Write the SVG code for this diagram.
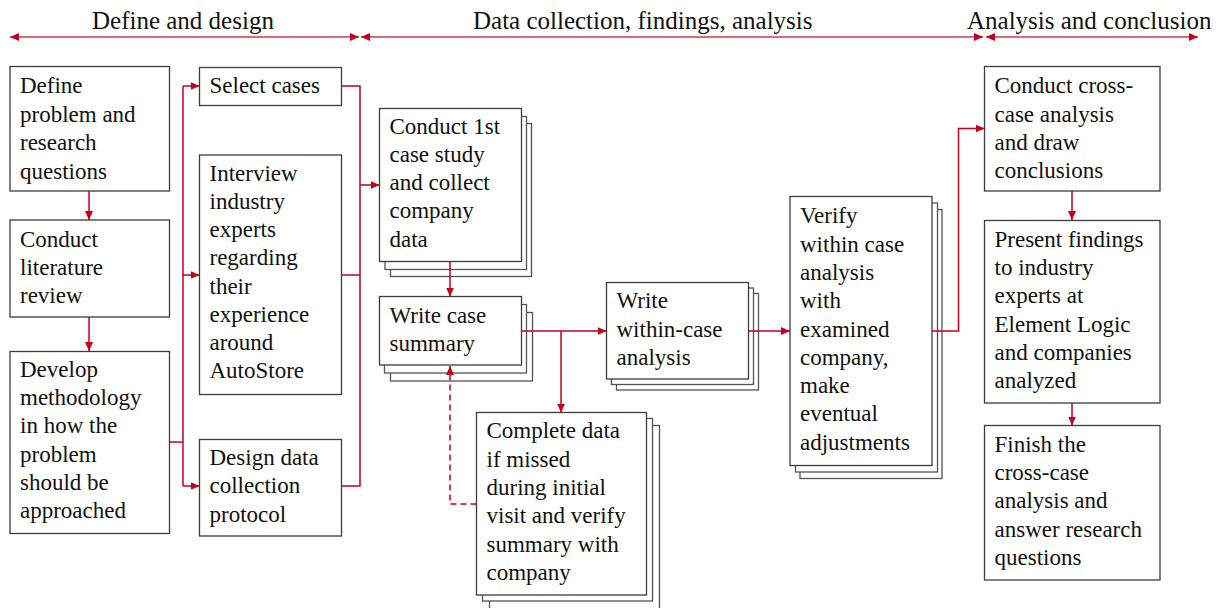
<svg xmlns="http://www.w3.org/2000/svg" width="1222" height="608" viewBox="0 0 1222 608" font-family="'Liberation Serif', 'Times New Roman', Tinos, serif">
<defs>
<style>
text{font-family:"Liberation Serif","Times New Roman",Tinos,serif;fill:#111;}
.h{font-size:25px;}
.t{font-size:23px;}
.box{fill:#fff;stroke:#3c3c3c;stroke-width:1.3;}
.bk{fill:#fff;stroke:#555;stroke-width:1.3;}
.c{fill:none;stroke:#c4001c;stroke-width:1.5;}
.d{fill:none;stroke:#c4001c;stroke-width:1.5;stroke-dasharray:6,4;}
.hl{fill:none;stroke:#cf3a4a;stroke-width:1.4;}
</style>
<marker id="a" markerWidth="9" markerHeight="8" refX="9" refY="4" orient="auto-start-reverse" markerUnits="userSpaceOnUse">
<path d="M0,0 L9,4 L0,8 z" fill="#c4001c"/>
</marker>
</defs>
<rect width="1222" height="608" fill="#fff"/>
<g id="headers">
<text class="h" x="92" y="29">Define and design</text>
<text class="h" x="473" y="29">Data collection, findings, analysis</text>
<text class="h" x="967" y="29">Analysis and conclusion</text>
<line class="hl" x1="10" y1="37" x2="359" y2="37" marker-start="url(#a)" marker-end="url(#a)"/>
<line class="hl" x1="361" y1="37" x2="983" y2="37" marker-start="url(#a)" marker-end="url(#a)"/>
<line class="hl" x1="986" y1="37" x2="1198" y2="37" marker-start="url(#a)" marker-end="url(#a)"/>
</g>
<g id="n-define">
<rect class="box" x="10" y="66.5" width="159.5" height="124.5"/>
<text class="t" x="20" y="93.3">Define</text>
<text class="t" x="20" y="121.7">problem and</text>
<text class="t" x="20" y="150.1">research</text>
<text class="t" x="20" y="178.5">questions</text>
</g>
<g id="n-literature">
<rect class="box" x="10" y="220" width="159.5" height="97"/>
<text class="t" x="20" y="246.5">Conduct</text>
<text class="t" x="20" y="274.9">literature</text>
<text class="t" x="20" y="303.3">review</text>
</g>
<g id="n-develop">
<rect class="box" x="10" y="351.5" width="159.5" height="182"/>
<text class="t" x="20" y="376.8">Develop</text>
<text class="t" x="20" y="405.1">methodology</text>
<text class="t" x="20" y="433.4">in how the</text>
<text class="t" x="20" y="461.7">problem</text>
<text class="t" x="20" y="490">should be</text>
<text class="t" x="20" y="518.3">approached</text>
</g>
<g id="n-select">
<rect class="box" x="199.5" y="67.5" width="142" height="38"/>
<text class="t" x="209.5" y="93.3">Select cases</text>
</g>
<g id="n-interview">
<rect class="box" x="199.5" y="155" width="142" height="239.5"/>
<text class="t" x="209.5" y="180.7">Interview</text>
<text class="t" x="209.5" y="208.9">industry</text>
<text class="t" x="209.5" y="237.1">experts</text>
<text class="t" x="209.5" y="265.3">regarding</text>
<text class="t" x="209.5" y="293.5">their</text>
<text class="t" x="209.5" y="321.7">experience</text>
<text class="t" x="209.5" y="349.9">around</text>
<text class="t" x="209.5" y="378.1">AutoStore</text>
</g>
<g id="n-design">
<rect class="box" x="199.5" y="439.5" width="142" height="96.5"/>
<text class="t" x="209.5" y="465">Design data</text>
<text class="t" x="209.5" y="493.3">collection</text>
<text class="t" x="209.5" y="521.6">protocol</text>
</g>
<g id="n-conduct1st">
<rect class="bk" x="390.5" y="123.5" width="141" height="153"/>
<rect class="bk" x="385" y="116.5" width="141.5" height="153"/>
<rect class="box" x="379.5" y="108.5" width="142" height="153"/>
<text class="t" x="389.5" y="133.5">Conduct 1st</text>
<text class="t" x="389.5" y="161.8">case study</text>
<text class="t" x="389.5" y="190.1">and collect</text>
<text class="t" x="389.5" y="218.4">company</text>
<text class="t" x="389.5" y="246.7">data</text>
</g>
<g id="n-summary">
<rect class="bk" x="390.5" y="312.5" width="142" height="68.5"/>
<rect class="bk" x="384.5" y="304.5" width="142" height="68.5"/>
<rect class="box" x="379.5" y="296.5" width="142" height="68.5"/>
<text class="t" x="389.5" y="323">Write case</text>
<text class="t" x="389.5" y="351.3">summary</text>
</g>
<g id="n-within">
<rect class="bk" x="616.5" y="293.5" width="142" height="96.5"/>
<rect class="bk" x="611.5" y="288" width="142" height="96.5"/>
<rect class="box" x="606.5" y="282.5" width="142" height="96.5"/>
<text class="t" x="616.5" y="308.4">Write</text>
<text class="t" x="616.5" y="336.7">within-case</text>
<text class="t" x="616.5" y="365">analysis</text>
</g>
<g id="n-complete">
<rect class="bk" x="489.5" y="425.5" width="170" height="190"/>
<rect class="bk" x="482.5" y="418.5" width="170" height="182.5"/>
<rect class="box" x="476.5" y="412.5" width="170" height="182.5"/>
<text class="t" x="486.5" y="438.3">Complete data</text>
<text class="t" x="486.5" y="466.6">if missed</text>
<text class="t" x="486.5" y="494.9">during initial</text>
<text class="t" x="486.5" y="523.2">visit and verify</text>
<text class="t" x="486.5" y="551.5">summary with</text>
<text class="t" x="486.5" y="579.8">company</text>
</g>
<g id="n-verify">
<rect class="bk" x="800" y="209.5" width="142" height="269"/>
<rect class="bk" x="795.5" y="203" width="142" height="269"/>
<rect class="box" x="790" y="196.5" width="142" height="269"/>
<text class="t" x="800" y="223.3">Verify</text>
<text class="t" x="800" y="251.6">within case</text>
<text class="t" x="800" y="279.9">analysis</text>
<text class="t" x="800" y="308.2">with</text>
<text class="t" x="800" y="336.5">examined</text>
<text class="t" x="800" y="364.8">company,</text>
<text class="t" x="800" y="393.1">make</text>
<text class="t" x="800" y="421.4">eventual</text>
<text class="t" x="800" y="449.7">adjustments</text>
</g>
<g id="n-crosscase">
<rect class="box" x="984.5" y="66.5" width="175.5" height="124.5"/>
<text class="t" x="994.5" y="93.3">Conduct cross-</text>
<text class="t" x="994.5" y="121.6">case analysis</text>
<text class="t" x="994.5" y="149.9">and draw</text>
<text class="t" x="994.5" y="178.2">conclusions</text>
</g>
<g id="n-present">
<rect class="box" x="984.5" y="220.5" width="175.5" height="182.5"/>
<text class="t" x="994.5" y="246.7">Present findings</text>
<text class="t" x="994.5" y="275">to industry</text>
<text class="t" x="994.5" y="303.3">experts at</text>
<text class="t" x="994.5" y="331.6">Element Logic</text>
<text class="t" x="994.5" y="359.9">and companies</text>
<text class="t" x="994.5" y="388.2">analyzed</text>
</g>
<g id="n-finish">
<rect class="box" x="984.5" y="425.5" width="175.5" height="154.5"/>
<text class="t" x="994.5" y="451.7">Finish the</text>
<text class="t" x="994.5" y="480">cross-case</text>
<text class="t" x="994.5" y="508.3">analysis and</text>
<text class="t" x="994.5" y="536.6">answer research</text>
<text class="t" x="994.5" y="564.9">questions</text>
</g>
<g id="connectors">
<line class="c" x1="89" y1="191" x2="89" y2="220" marker-end="url(#a)"/>
<line class="c" x1="89" y1="317" x2="89" y2="351" marker-end="url(#a)"/>
<polyline class="c" points="169.5,442 183,442"/>
<line class="c" x1="183" y1="86" x2="183" y2="486"/>
<line class="c" x1="183" y1="86" x2="199.5" y2="86" marker-end="url(#a)"/>
<line class="c" x1="183" y1="275" x2="199.5" y2="275" marker-end="url(#a)"/>
<line class="c" x1="183" y1="486" x2="199.5" y2="486" marker-end="url(#a)"/>
<polyline class="c" points="341.5,86 360,86 360,486 341.5,486"/>
<line class="c" x1="341.5" y1="275" x2="360" y2="275"/>
<line class="c" x1="360" y1="185" x2="379.5" y2="185" marker-end="url(#a)"/>
<line class="c" x1="450" y1="261.5" x2="450" y2="296.5" marker-end="url(#a)"/>
<line class="c" x1="521.5" y1="331" x2="606.5" y2="331" marker-end="url(#a)"/>
<line class="c" x1="561" y1="331" x2="561" y2="412.5" marker-end="url(#a)"/>
<polyline class="d" points="476.5,504 450,504 450,366" marker-end="url(#a)"/>
<line class="c" x1="748.5" y1="331" x2="790" y2="331" marker-end="url(#a)"/>
<polyline class="c" points="932,331 958.5,331 958.5,128.5 984.5,128.5" marker-end="url(#a)"/>
<line class="c" x1="1072" y1="191" x2="1072" y2="220" marker-end="url(#a)"/>
<line class="c" x1="1072" y1="403" x2="1072" y2="425.5" marker-end="url(#a)"/>
</g>
</svg>
